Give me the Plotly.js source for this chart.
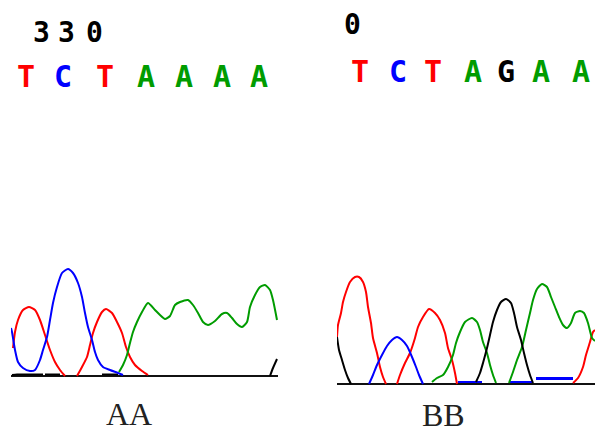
<!DOCTYPE html>
<html>
<head>
<meta charset="utf-8">
<script src="https://cdn.plot.ly/plotly-3.0.1.min.js"></script>
<style>
html,body{margin:0;padding:0;background:#fff;}
#chart{width:595px;height:432px;}
</style>
</head>
<body>
<div id="chart"></div>
<script>
// ---------- Sample AA (left panel) : scan position / signal intensity ----------
var aaPositionLabel = ["3", "3", "0"];
var aaBases = ["T", "C", "T", "A", "A", "A", "A"];
var aaBasePos = [26, 63, 105, 146, 184, 222, 259];

var aaRedX = [13, 15, 18, 23, 29, 35, 40, 45, 50, 55, 60, 65, null, 77, 82, 87, 90, 93, 97, 102, 106, 112, 117, 122, 126, 130, 135, 142, 148];
var aaRedY = [28, 44, 56, 66, 69, 66, 56, 41, 26, 14, 6, 0, null, 0, 9, 19, 31, 43, 54, 64, 67, 63, 54, 43, 29, 19, 11, 5, 1];

var aaBlueX = [11, 12, 15, 18, 23, 30, 35, 40, 43, 47, 50, 53, 57, 62, 68, 73, 78, 82, 85, 88, 92, 95, 98, 103, 110, 118, 123];
var aaBlueY = [48, 44, 26, 14, 8, 5, 6, 16, 26, 39, 56, 73, 89, 103, 107, 103, 93, 79, 63, 49, 36, 24, 16, 9, 6, 3, 1];

var aaGreenX = [119, 123, 127, 130, 133, 137, 142, 148, 155, 160, 165, 170, 175, 180, 188, 193, 198, 203, 208, 215, 222, 227, 232, 237, 242, 247, 250, 255, 260, 265, 270, 273, 277];
var aaGreenY = [4, 11, 21, 33, 44, 54, 64, 73, 66, 61, 57, 60, 71, 74, 76, 71, 63, 54, 51, 55, 62, 63, 58, 52, 49, 54, 69, 81, 89, 91, 86, 76, 56];

var aaBlackX = [12, 17, 43, null, 45, 60, null, 102, 118, null, 270, 273, 277];
var aaBlackY = [1, 1.5, 1.5, null, 1.5, 1.5, null, 1.5, 1.5, null, 0, 8, 17];

// ---------- Sample BB (right panel) ----------
var bbPositionLabel = ["0"];
var bbBases = ["T", "C", "T", "A", "G", "A", "A"];
var bbBasePos = [360, 398, 433, 473, 506, 541, 581];

var bbRedX = [337, 338, 341, 343, 346, 350, 355, 359, 363, 366, 368, 371, 373, 377, 380, 383, 386, null,
              397, 400, 405, 410, 415, 418, 423, 429, 435, 440, 445, 448, 452, 455, 457, null,
              573, 578, 583, 586, 590, 593, 595];
var bbRedY = [47, 59, 71, 82, 92, 102, 107, 107, 102, 92, 77, 61, 46, 31, 17, 7, 0, null,
              0, 9, 21, 31, 46, 57, 67, 75, 71, 64, 51, 36, 24, 11, 0, null,
              1, 6, 17, 29, 42, 52, 54];

var bbBlueX = [369, 373, 377, 382, 387, 392, 397, 402, 407, 412, 416, 419, 423, null, 458, 482, null, 510, 532];
var bbBlueY = [0, 9, 19, 29, 38, 44, 47, 44, 38, 27, 17, 9, 0, null, 2, 2, null, 2, 2];
var bbBlueFlatX = [536, 573];
var bbBlueFlatY = [5.5, 5.5];

var bbGreenX = [432, 437, 443, 448, 453, 456, 460, 465, 472, 477, 480, 483, 487, 490, 493, 496, null,
                509, 513, 517, 522, 526, 530, 533, 537, 542, 547, 551, 555, 559, 563, 567, 571, 575, 580, 584, 588, 592, 595];
var bbGreenY = [2, 6, 9, 17, 29, 41, 52, 62, 66, 62, 54, 42, 31, 19, 9, 1, null,
                1, 12, 24, 37, 54, 71, 84, 95, 100, 97, 87, 77, 67, 59, 56, 61, 71, 73, 71, 61, 46, 43];

var bbBlackX = [337, 339, 342, 345, 348, 351, null, 476, 480, 483, 487, 490, 493, 497, 501, 506, 511, 514, 517, 521, 524, 527, 530, 533];
var bbBlackY = [47, 34, 24, 14, 6, 0, null, 2, 11, 21, 36, 49, 62, 74, 82, 85, 81, 71, 57, 44, 31, 19, 9, 1];

// ---------- styling ----------
var baseColor = {A: "#009c00", C: "#0000ff", G: "#000000", T: "#ff0000"};
var W = 595, H = 432;
function px(x) { return x / W; }
function py(y) { return 1 - y / H; }

function line(x, y, color, xa, ya, width) {
  return {
    x: x, y: y, xaxis: xa, yaxis: ya, type: "scatter", mode: "lines",
    line: {color: color, width: width || 2, shape: "spline", smoothing: 0.6},
    connectgaps: false, hoverinfo: "skip", showlegend: false
  };
}

var traces = [
  line(aaBlackX, aaBlackY, "#000000", "x", "y"),
  line(aaRedX, aaRedY, "#ff0000", "x", "y"),
  line(aaBlueX, aaBlueY, "#0000ff", "x", "y"),
  line(aaGreenX, aaGreenY, "#009c00", "x", "y"),
  line(bbRedX, bbRedY, "#ff0000", "x2", "y2"),
  line(bbBlueX, bbBlueY, "#0000ff", "x2", "y2"),
  line(bbBlueFlatX, bbBlueFlatY, "#0000ff", "x2", "y2", 3),
  line(bbGreenX, bbGreenY, "#009c00", "x2", "y2"),
  line(bbBlackX, bbBlackY, "#000000", "x2", "y2")
];

var annotations = [];
function addText(text, x, y, size, color, family) {
  annotations.push({
    text: text, x: x, y: y, xref: "paper", yref: "paper",
    xanchor: "center", yanchor: "middle", showarrow: false,
    font: {family: family, size: size, color: color}
  });
}
var mono = "DejaVu Sans Mono";
var aaDigitPos = [41.5, 66.5, 95];
aaPositionLabel.forEach(function (d, i) { addText("<b>" + d + "</b>", px(aaDigitPos[i]), py(33), 28, "#000", mono); });
var bbDigitPos = [352];
bbPositionLabel.forEach(function (d, i) { addText("<b>" + d + "</b>", px(bbDigitPos[i]), py(25), 28, "#000", mono); });
aaBases.forEach(function (b, i) { addText("<b>" + b + "</b>", px(aaBasePos[i]), py(77), 30, baseColor[b], mono); });
bbBases.forEach(function (b, i) { addText("<b>" + b + "</b>", px(bbBasePos[i]), py(71), 30, baseColor[b], mono); });
addText("AA", px(129), py(414), 32, "#222", "Liberation Serif");
addText("BB", px(443), py(415), 32, "#222", "Liberation Serif");

var axisCommon = {showgrid: false, showticklabels: false, ticks: "", showline: false, zeroline: false, fixedrange: true};
var layout = {
  width: W, height: H,
  margin: {l: 0, r: 0, t: 0, b: 0},
  paper_bgcolor: "#ffffff", plot_bgcolor: "rgba(0,0,0,0)",
  showlegend: false,
  xaxis: Object.assign({}, axisCommon, {domain: [px(11), px(278)], range: [11, 278], anchor: "y"}),
  yaxis: Object.assign({}, axisCommon, {domain: [py(380), py(260)], range: [-4, 116], anchor: "x",
          zeroline: true, zerolinecolor: "#111", zerolinewidth: 2}),
  xaxis2: Object.assign({}, axisCommon, {domain: [px(337), 1], range: [337, 595], anchor: "y2"}),
  yaxis2: Object.assign({}, axisCommon, {domain: [py(388), py(268)], range: [-4, 116], anchor: "x2",
          zeroline: true, zerolinecolor: "#111", zerolinewidth: 2}),
  annotations: annotations
};

Plotly.newPlot("chart", traces, layout, {staticPlot: true, displayModeBar: false});
</script>
</body>
</html>
